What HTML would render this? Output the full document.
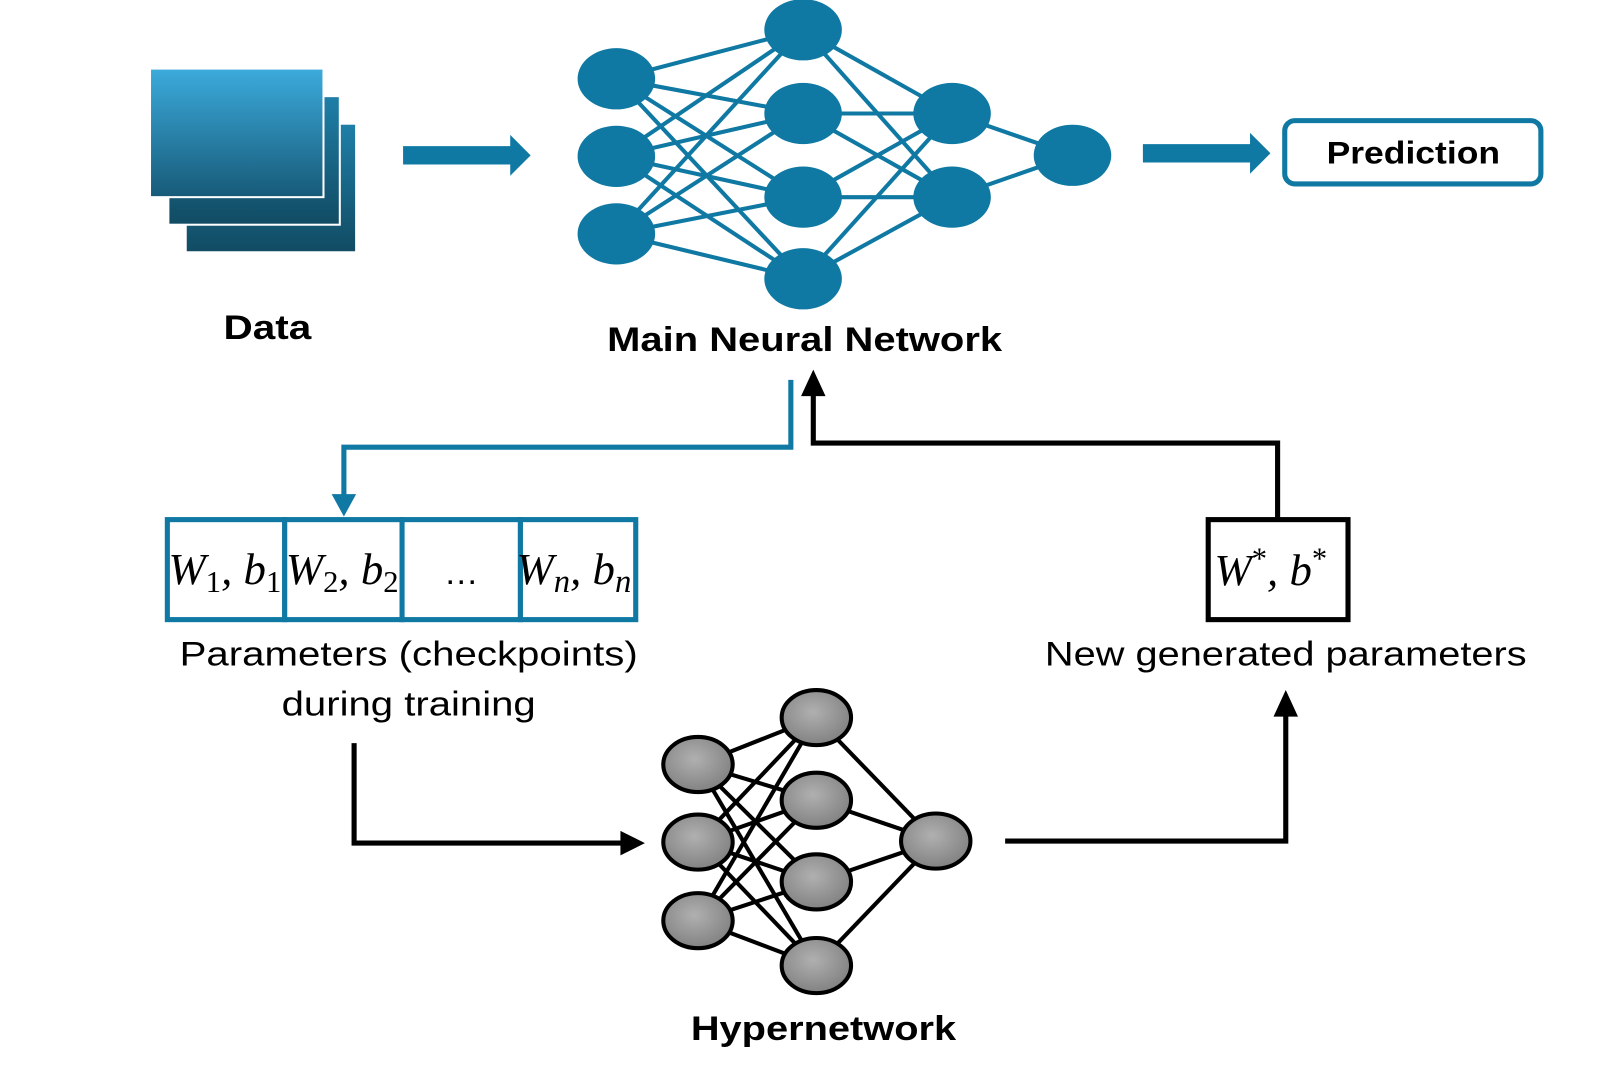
<!DOCTYPE html>
<html><head><meta charset="utf-8"><style>
html,body{margin:0;padding:0;background:#fff;}
svg{display:block;}
text{font-family:"Liberation Sans",sans-serif;}
.m{font-family:"Liberation Serif",serif;font-style:italic;font-size:44px;}
</style></head><body>
<svg width="1597" height="1077" viewBox="0 0 1565 1055" xmlns="http://www.w3.org/2000/svg">
<defs>
<linearGradient id="g" x1="0" y1="0" x2="0" y2="1">
<stop offset="0" stop-color="#3cabdc"/><stop offset="1" stop-color="#175a78"/></linearGradient>
<linearGradient id="g2" x1="0" y1="0" x2="0" y2="1">
<stop offset="0" stop-color="#1f7fa8"/><stop offset="1" stop-color="#114b63"/></linearGradient>
<radialGradient id="gr" cx="0.45" cy="0.4" r="0.7"><stop offset="0" stop-color="#b0b0b0"/><stop offset="1" stop-color="#7a7a7a"/></radialGradient>
</defs>
<rect x="182" y="121" width="167" height="126" fill="url(#g2)" stroke="#fff" stroke-width="2"/>
<rect x="165" y="94" width="168" height="126" fill="url(#g2)" stroke="#fff" stroke-width="2"/>
<rect x="147" y="67" width="170" height="126" fill="url(#g)" stroke="#fff" stroke-width="2"/>
<text x="219" y="332" font-size="34" font-weight="bold" textLength="86" lengthAdjust="spacingAndGlyphs">Data</text>
<polygon points="395,143 500,143 500,132 520,152 500,172 500,161 395,161" fill="#0f79a3"/>
<polygon points="1120,141 1225,141 1225,130 1245,150 1225,170 1225,159 1120,159" fill="#0f79a3"/>
<rect x="1259" y="118" width="251" height="62" rx="10" fill="#fff" stroke="#0f79a3" stroke-width="5"/>
<text x="1300" y="160" font-size="31" font-weight="bold" textLength="170" lengthAdjust="spacingAndGlyphs">Prediction</text>
<g stroke="#0f79a3" stroke-width="4">
<line x1="604" y1="77" x2="787" y2="29"/><line x1="604" y1="77" x2="787" y2="111"/><line x1="604" y1="77" x2="787" y2="193"/><line x1="604" y1="77" x2="787" y2="273"/>
<line x1="604" y1="153" x2="787" y2="29"/><line x1="604" y1="153" x2="787" y2="111"/><line x1="604" y1="153" x2="787" y2="193"/><line x1="604" y1="153" x2="787" y2="273"/>
<line x1="604" y1="229" x2="787" y2="29"/><line x1="604" y1="229" x2="787" y2="111"/><line x1="604" y1="229" x2="787" y2="193"/><line x1="604" y1="229" x2="787" y2="273"/>
<line x1="787" y1="29" x2="933" y2="111"/><line x1="787" y1="29" x2="933" y2="193"/>
<line x1="787" y1="111" x2="933" y2="111"/><line x1="787" y1="111" x2="933" y2="193"/>
<line x1="787" y1="193" x2="933" y2="111"/><line x1="787" y1="193" x2="933" y2="193"/>
<line x1="787" y1="273" x2="933" y2="111"/><line x1="787" y1="273" x2="933" y2="193"/>
<line x1="933" y1="111" x2="1051" y2="152"/><line x1="933" y1="193" x2="1051" y2="152"/>
</g>
<g fill="#0f79a3">
<ellipse cx="604" cy="77" rx="38" ry="30"/><ellipse cx="604" cy="153" rx="38" ry="30"/><ellipse cx="604" cy="229" rx="38" ry="30"/>
<ellipse cx="787" cy="29" rx="38" ry="30"/><ellipse cx="787" cy="111" rx="38" ry="30"/><ellipse cx="787" cy="193" rx="38" ry="30"/><ellipse cx="787" cy="273" rx="38" ry="30"/>
<ellipse cx="933" cy="111" rx="38" ry="30"/><ellipse cx="933" cy="193" rx="38" ry="30"/>
<ellipse cx="1051" cy="152" rx="38" ry="30"/>
</g>
<text x="595" y="344" font-size="34" font-weight="bold" textLength="387" lengthAdjust="spacingAndGlyphs">Main Neural Network</text>
<polyline points="775,372 775,438 337,438 337,488" fill="none" stroke="#0f79a3" stroke-width="5"/>
<polygon points="325,484 349,484 337,506" fill="#0f79a3"/>
<polyline points="1252,507 1252,434 797,434 797,384" fill="none" stroke="#000" stroke-width="5"/>
<polygon points="785,388 809,388 797,362" fill="#000"/>
<g fill="#fff" stroke="#0f79a3" stroke-width="5">
<rect x="164" y="509" width="115" height="98"/><rect x="279" y="509" width="115" height="98"/><rect x="394" y="509" width="116" height="98"/><rect x="510" y="509" width="113" height="98"/>
</g>
<text class="m" x="165" y="572">W<tspan font-size="30" dy="8" font-style="normal">1</tspan><tspan dy="-8">, b</tspan><tspan font-size="30" dy="8" font-style="normal">1</tspan></text>
<text class="m" x="280" y="572">W<tspan font-size="30" dy="8" font-style="normal">2</tspan><tspan dy="-8">, b</tspan><tspan font-size="30" dy="8" font-style="normal">2</tspan></text>
<text x="452" y="572" font-size="34" text-anchor="middle">…</text>
<text class="m" x="506" y="572">W<tspan font-size="32" dy="8">n</tspan><tspan dy="-8">, b</tspan><tspan font-size="32" dy="8">n</tspan></text>
<rect x="1184" y="509" width="137" height="98" fill="#fff" stroke="#000" stroke-width="5"/>
<text class="m" x="1190" y="573">W<tspan font-size="30" dy="-16" font-style="normal">*</tspan><tspan dy="16">, b</tspan><tspan font-size="30" dy="-16" font-style="normal">*</tspan></text>
<text x="176" y="652" font-size="34" textLength="449" lengthAdjust="spacingAndGlyphs">Parameters (checkpoints)</text>
<text x="276" y="701" font-size="34" textLength="249" lengthAdjust="spacingAndGlyphs">during training</text>
<text x="1024" y="652" font-size="34" textLength="472" lengthAdjust="spacingAndGlyphs">New generated parameters</text>
<polyline points="347,728 347,826 612,826" fill="none" stroke="#000" stroke-width="5"/>
<polygon points="608,814 608,838 632,826" fill="#000"/>
<polyline points="985,824 1260,824 1260,698" fill="none" stroke="#000" stroke-width="5"/>
<polygon points="1248,702 1272,702 1260,676" fill="#000"/>
<g stroke="#000" stroke-width="4">
<line x1="684" y1="749" x2="800" y2="703"/><line x1="684" y1="749" x2="800" y2="784"/><line x1="684" y1="749" x2="800" y2="864"/><line x1="684" y1="749" x2="800" y2="946"/>
<line x1="684" y1="825" x2="800" y2="703"/><line x1="684" y1="825" x2="800" y2="784"/><line x1="684" y1="825" x2="800" y2="864"/><line x1="684" y1="825" x2="800" y2="946"/>
<line x1="684" y1="902" x2="800" y2="703"/><line x1="684" y1="902" x2="800" y2="784"/><line x1="684" y1="902" x2="800" y2="864"/><line x1="684" y1="902" x2="800" y2="946"/>
<line x1="800" y1="703" x2="917" y2="824"/><line x1="800" y1="784" x2="917" y2="824"/><line x1="800" y1="864" x2="917" y2="824"/><line x1="800" y1="946" x2="917" y2="824"/>
</g>
<g fill="url(#gr)" stroke="#000" stroke-width="4">
<ellipse cx="684" cy="749" rx="34" ry="27"/><ellipse cx="684" cy="825" rx="34" ry="27"/><ellipse cx="684" cy="902" rx="34" ry="27"/>
<ellipse cx="800" cy="703" rx="34" ry="27"/><ellipse cx="800" cy="784" rx="34" ry="27"/><ellipse cx="800" cy="864" rx="34" ry="27"/><ellipse cx="800" cy="946" rx="34" ry="27"/>
<ellipse cx="917" cy="824" rx="34" ry="27"/>
</g>
<text x="677" y="1019" font-size="34" font-weight="bold" textLength="260" lengthAdjust="spacingAndGlyphs">Hypernetwork</text>
</svg>
</body></html>
